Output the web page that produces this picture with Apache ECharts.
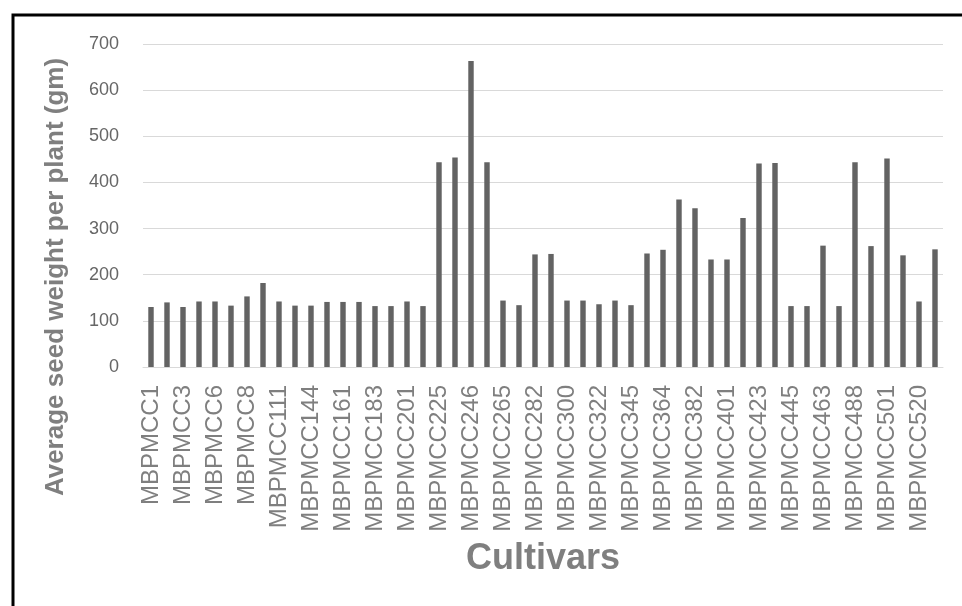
<!DOCTYPE html>
<html>
<head>
<meta charset="utf-8">
<style>
  html, body { margin: 0; padding: 0; background: #fff; }
  #chart { width: 962px; height: 606px; }
</style>
<script src="https://cdn.jsdelivr.net/npm/echarts@6/dist/echarts.min.js"></script>
</head>
<body>
<div id="chart"></div>
<script>
// Cultivar names (every other one is shown on the axis, as in the reference)
const cultivars = [
  'MBPMCC1', 'MBPMCC2', 'MBPMCC3', 'MBPMCC5', 'MBPMCC6', 'MBPMCC7', 'MBPMCC8', 'MBPMCC101',
  'MBPMCC111', 'MBPMCC130', 'MBPMCC144', 'MBPMCC152', 'MBPMCC161', 'MBPMCC172', 'MBPMCC183', 'MBPMCC192',
  'MBPMCC201', 'MBPMCC213', 'MBPMCC225', 'MBPMCC236', 'MBPMCC246', 'MBPMCC255', 'MBPMCC265', 'MBPMCC274',
  'MBPMCC282', 'MBPMCC291', 'MBPMCC300', 'MBPMCC311', 'MBPMCC322', 'MBPMCC333', 'MBPMCC345', 'MBPMCC355',
  'MBPMCC364', 'MBPMCC373', 'MBPMCC382', 'MBPMCC392', 'MBPMCC401', 'MBPMCC412', 'MBPMCC423', 'MBPMCC434',
  'MBPMCC445', 'MBPMCC454', 'MBPMCC463', 'MBPMCC475', 'MBPMCC488', 'MBPMCC495', 'MBPMCC501', 'MBPMCC510',
  'MBPMCC520', 'MBPMCC528'
];

// Average seed weight per plant (gm)
const seedWeight = [
  130, 140, 130, 142, 142, 133, 153, 182, 142, 133,
  133, 141, 141, 141, 132, 132, 142, 132, 444, 454,
  663, 444, 144, 134, 244, 245, 144, 144, 136, 144,
  134, 246, 254, 363, 344, 233, 233, 323, 441, 442,
  132, 132, 263, 132, 444, 262, 452, 242, 142, 255
];

const yTicks = { min: 0, max: 700, interval: 100 };

const chart = echarts.init(document.getElementById('chart'), null, { renderer: 'canvas' });

chart.setOption({
  animation: false,
  backgroundColor: '#ffffff',
  grid: { left: 143, right: 19, top: 44, bottom: 239 },
  xAxis: {
    type: 'category',
    data: cultivars,
    axisLine: { show: true, lineStyle: { color: '#d9d9d9', width: 1 } },
    axisTick: { show: false },
    axisLabel: {
      interval: 1,
      rotate: 90,
      margin: 18,
      fontFamily: 'Liberation Sans, Arial, sans-serif',
      fontSize: 24,
      color: '#7f7f7f'
    },
    name: 'Cultivars',
    nameLocation: 'middle',
    nameGap: 174,
    nameTextStyle: {
      fontFamily: 'Liberation Sans, Arial, sans-serif',
      fontSize: 36,
      fontWeight: 'bold',
      color: '#7f7f7f'
    }
  },
  yAxis: {
    type: 'value',
    min: yTicks.min,
    max: yTicks.max,
    interval: yTicks.interval,
    axisLine: { show: false },
    axisTick: { show: false },
    splitLine: { lineStyle: { color: '#d9d9d9', width: 1 } },
    axisLabel: {
      margin: 24,
      fontFamily: 'Liberation Sans, Arial, sans-serif',
      fontSize: 18,
      color: '#666666'
    }
  },
  graphic: [
    {
      type: 'rect',
      silent: true,
      shape: { x: 13, y: 15, width: 1200, height: 1200 },
      style: { fill: 'none', stroke: '#000000', lineWidth: 3 }
    },
    {
      type: 'text',
      silent: true,
      x: 56,
      y: 277,
      rotation: Math.PI / 2,
      style: {
        text: 'Average seed weight per plant (gm)',
        fontFamily: 'Liberation Sans, Arial, sans-serif',
        fontSize: 26,
        fontWeight: 'bold',
        fill: '#7f7f7f',
        align: 'center',
        verticalAlign: 'middle'
      }
    }
  ],
  series: [
    {
      type: 'bar',
      data: seedWeight,
      barWidth: '34%',
      itemStyle: { color: '#636363' }
    }
  ]
});
</script>
</body>
</html>
